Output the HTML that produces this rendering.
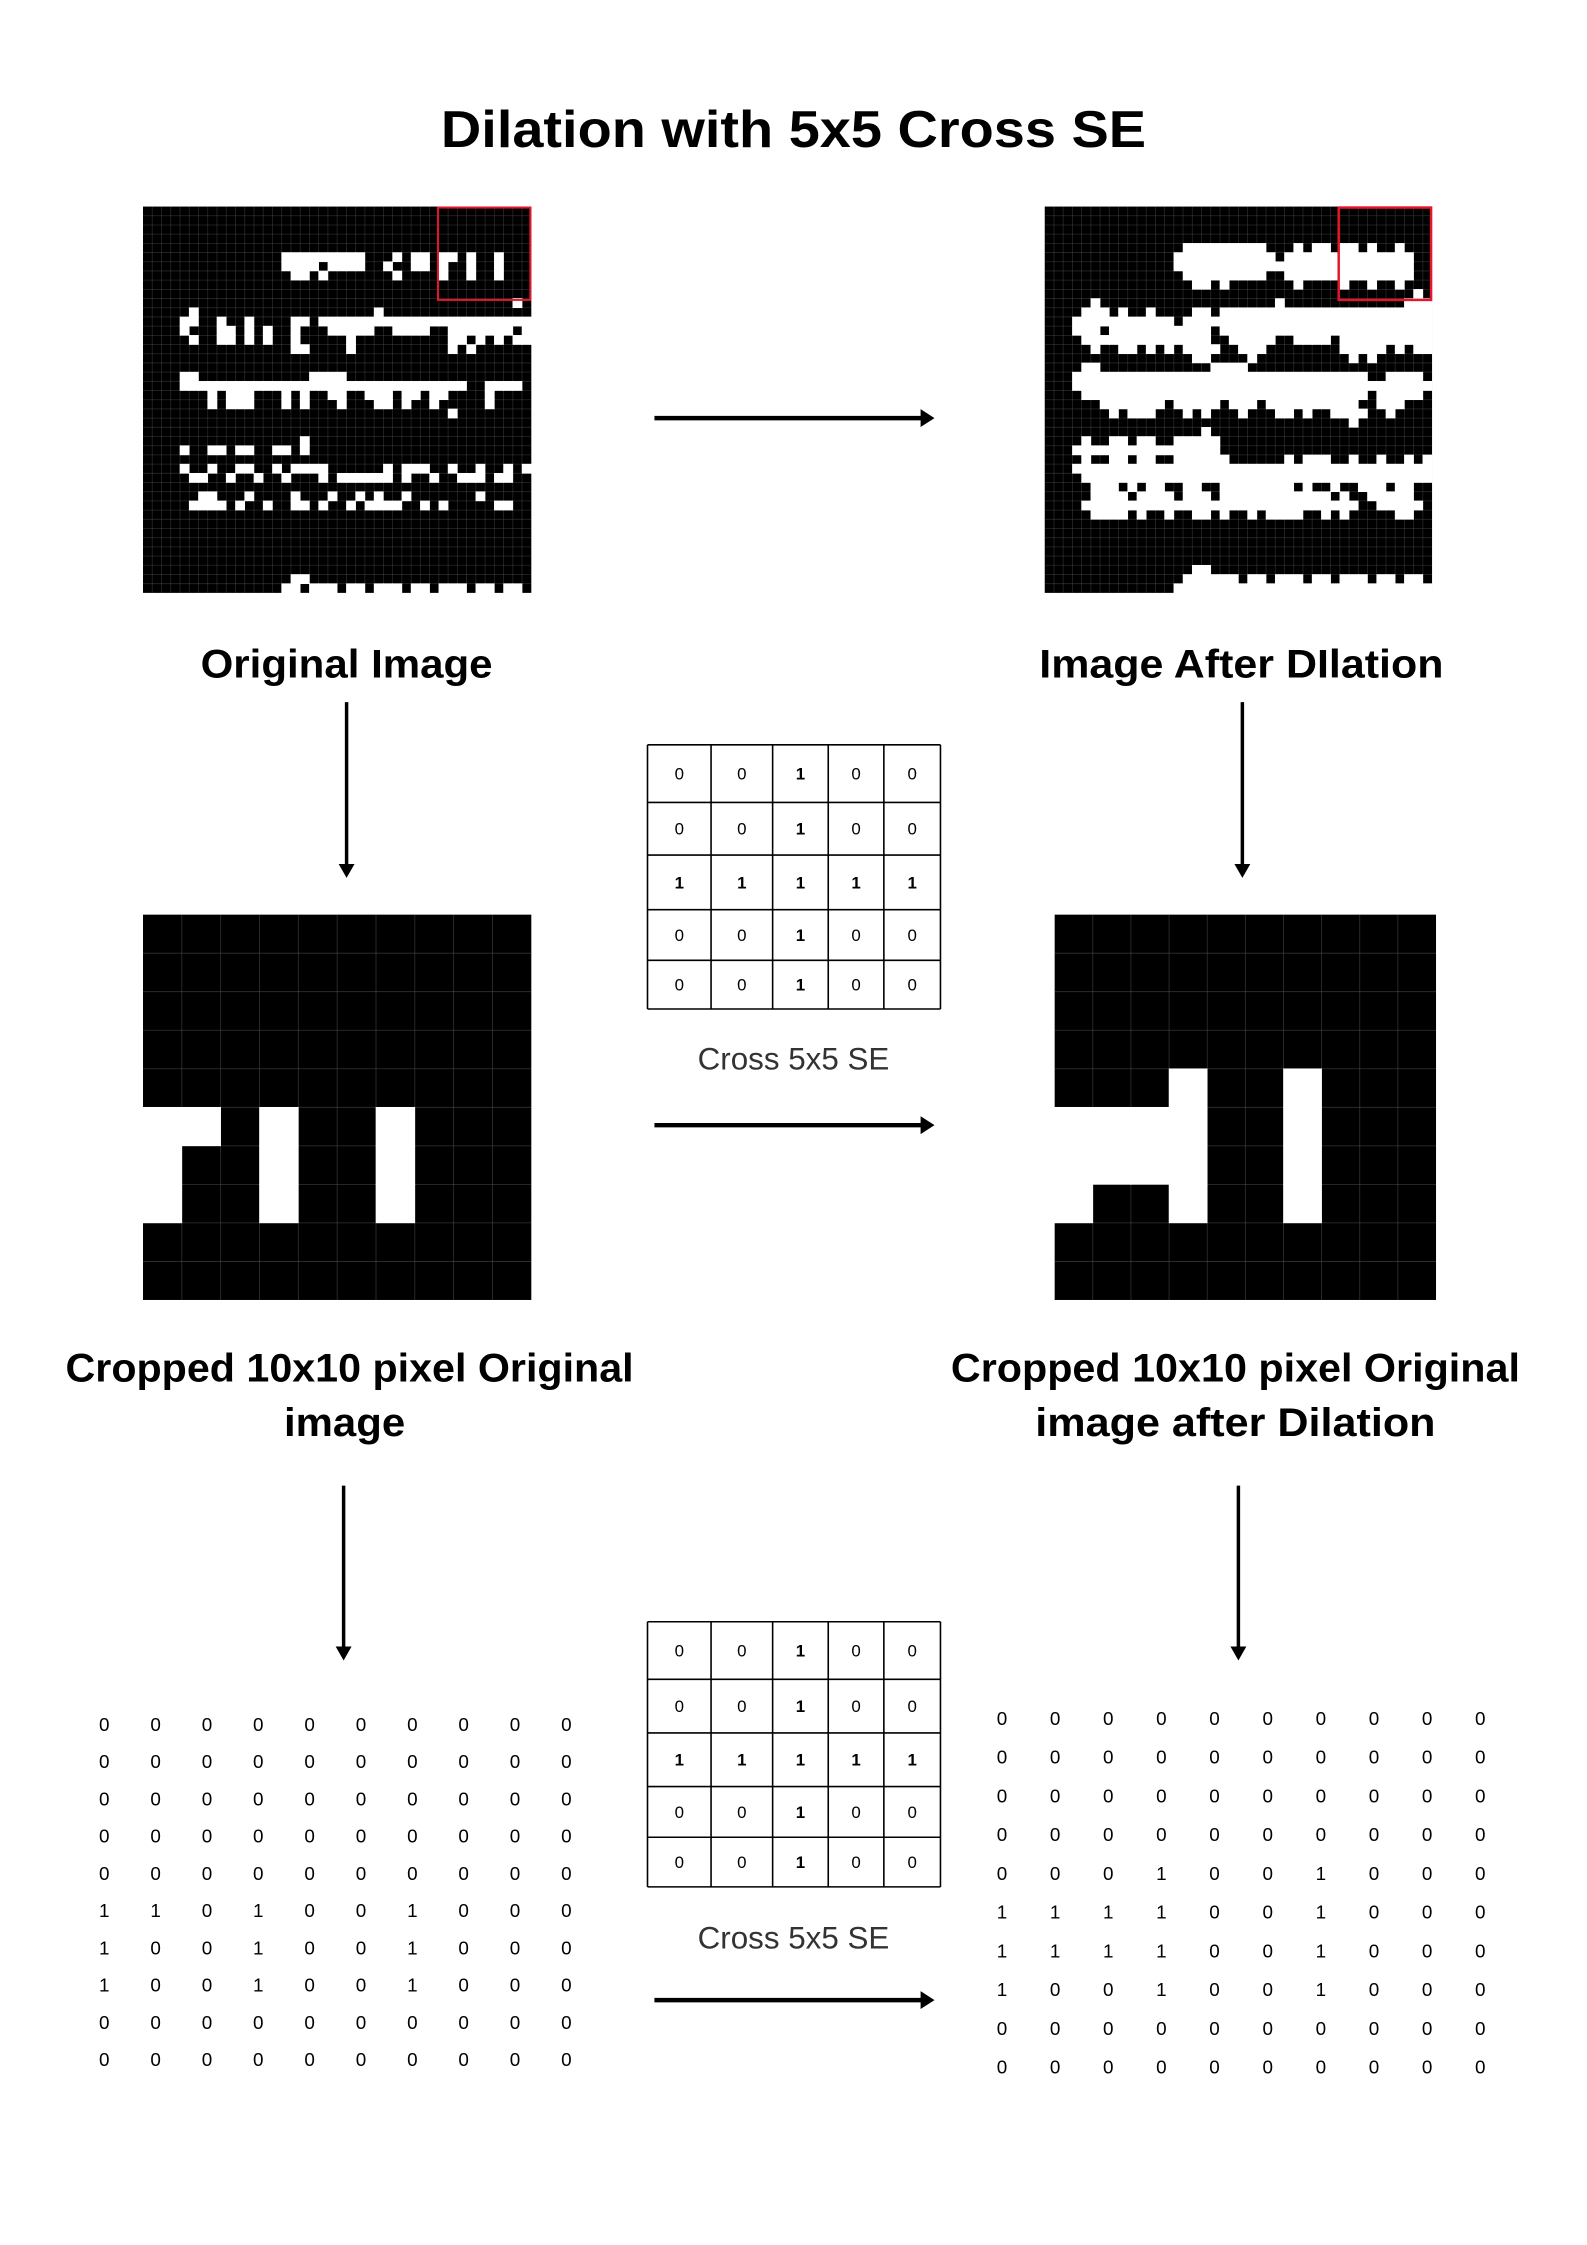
<!DOCTYPE html>
<html><head><meta charset="utf-8"><style>
html,body{margin:0;padding:0;background:#fff;}
svg{display:block;}
text{font-family:"Liberation Sans",sans-serif;}
</style></head><body>
<svg width="1587" height="2245" viewBox="0 0 1587 2245" xmlns="http://www.w3.org/2000/svg">
<rect width="1587" height="2245" fill="#fff"/>
<g id="page" transform="scale(0.9931)">
<text x="799" y="148" font-size="52" font-weight="bold" text-anchor="middle" textLength="710" lengthAdjust="spacingAndGlyphs">Dilation with 5x5 Cross SE</text>
<text x="349" y="682" font-size="40" font-weight="bold" text-anchor="middle" textLength="294" lengthAdjust="spacingAndGlyphs">Original Image</text>
<text x="1250" y="682" font-size="40" font-weight="bold" text-anchor="middle" textLength="407" lengthAdjust="spacingAndGlyphs">Image After DIlation</text>
<text x="352" y="1391" font-size="40" font-weight="bold" text-anchor="middle" textLength="572" lengthAdjust="spacingAndGlyphs">Cropped 10x10 pixel Original</text>
<text x="347" y="1446" font-size="40" font-weight="bold" text-anchor="middle" textLength="122" lengthAdjust="spacingAndGlyphs">image</text>
<text x="1244" y="1391" font-size="40" font-weight="bold" text-anchor="middle" textLength="573" lengthAdjust="spacingAndGlyphs">Cropped 10x10 pixel Original</text>
<text x="1244" y="1446" font-size="40" font-weight="bold" text-anchor="middle" textLength="403" lengthAdjust="spacingAndGlyphs">image after Dilation</text>
<text x="799" y="1077" font-size="32" fill="#333" text-anchor="middle" textLength="193" lengthAdjust="spacingAndGlyphs">Cross 5x5 SE</text>
<text x="799" y="1962" font-size="32" fill="#333" text-anchor="middle" textLength="193" lengthAdjust="spacingAndGlyphs">Cross 5x5 SE</text>
</g>
</svg>
<script>
const origRows = {
5:[15,16,17,18,19,20,21,22,23,27,29,30,32,33,35,38],
6:[15,16,17,18,20,21,22,23,26,29,30,32,35,38],
7:[16,17,19,27,32,35,38],
10:[40],
11:[5,25],
12:[4,5,8,11,16,17,19,20,21,22,23,24,25,26,27,28,29,30,31,32,33,34,35,36,37,38,39,40,41],
13:[4,8,9,11,13,16,20,21,22,23,24,27,28,29,30,33,34,35,36,37,38,39,41],
14:[5,8,9,11,13,16,22,33,34,36,38,40,41],
15:[16,17,22,33,35],
18:[4,5,18,19,20,21],
19:[4,5,6,7,8,9,10,11,12,13,14,15,16,17,18,19,20,21,22,23,24,25,26,27,28,29,30,31,32,33,34,37,38,39,40],
20:[7,9,10,11,15,17,20,21,24,25,26,28,29,31,32,37],
21:[7,9,10,11,15,17,21,25,26,28,31,37],
22:[33],
25:[17],
26:[4,7,8,10,11,14,15,17],
28:[4,7,10,11,14,16,17,18,19,26,28,29,30,33,36,39,41],
29:[5,6,9,12,15,19,21,22,23,24,25,26,28,31,34,35,36,38,39],
31:[6,7,11,16,20,23,25,28,36],
32:[5,6,7,8,10,13,16,17,19,22,24,25,26,27,30,32,38,39],
40:[16,17],
41:[15,16,18,19,20,22,23,25,26,27,29,30,32,33,34,36,37,39,40]
};
const cropOrig = [
"0000000000","0000000000","0000000000","0000000000","0000000000",
"1101001000","1001001000","1001001000","0000000000","0000000000"];
const cropDil = [
"0000000000","0000000000","0000000000","0000000000","0001001000",
"1111001000","1111001000","1001001000","0000000000","0000000000"];
const seMatrix = ["00100","00100","11111","00100","00100"];

const NS="http://www.w3.org/2000/svg";
const svg=document.getElementById('page');
function el(tag,attrs,parent){const e=document.createElementNS(NS,tag);for(const k in attrs)e.setAttribute(k,attrs[k]);(parent||svg).appendChild(e);return e;}

const N=42;
const orig=[];for(let r=0;r<N;r++){orig.push(new Array(N).fill(0));(origRows[r]||[]).forEach(c=>orig[r][c]=1);}
const dil=[];for(let r=0;r<N;r++){dil.push(new Array(N).fill(0));for(let c=0;c<N;c++){let v=0;for(let d=-1;d<=1;d++){if(orig[r+d]&&orig[r+d][c])v=1;if(orig[r][c+d])v=1;}dil[r][c]=v;}}

function drawGrid(mat,x,y,w,h,name,lineCol){
  const g=el('g',{});
  
  
  const n=mat.length, cw=w/n, ch=h/n;
  el('rect',{x:x,y:y,width:w,height:h,fill:'#000'},g);
  for(let i=1;i<n;i++){
    el('line',{x1:x+i*cw,y1:y,x2:x+i*cw,y2:y+h,stroke:lineCol,'stroke-width':0.8,opacity:0.6},g);
    el('line',{x1:x,y1:y+i*ch,x2:x+w,y2:y+i*ch,stroke:lineCol,'stroke-width':0.8,opacity:0.6},g);
  }
  for(let r=0;r<n;r++)for(let c=0;c<n;c++){
    if(+mat[r][c]){const p=el('rect',{x:x+c*cw-0.3,y:y+r*ch-0.3,width:cw+0.6,height:ch+0.6,fill:'#fff'},g);
      
      }
  }
  return g;
}
drawGrid(orig,144,208,391,389,'original-image','#444');
drawGrid(dil,1052,208,390,389,'dilated-image','#444');
let rb=el('rect',{x:441,y:209,width:93,height:93,fill:'none',stroke:'#e3162b','stroke-width':2});


rb=el('rect',{x:1348,y:209,width:93,height:93,fill:'none',stroke:'#e3162b','stroke-width':2.5});


drawGrid(cropOrig,144,921,391,388,'cropped-original-image','#555');
drawGrid(cropDil,1062,921,384,388,'cropped-dilated-image','#555');

function arrowH(x1,x2,y,name){const g=el('g',{});
  
  
  el('line',{x1:x1,y1:y,x2:x2-10,y2:y,stroke:'#000','stroke-width':4.5},g);
  el('polygon',{points:`${x2},${y} ${x2-14},${y-9} ${x2-14},${y+9}`,fill:'#000'},g);}
function arrowV(x,y1,y2,name){const g=el('g',{});
  
  
  el('line',{x1:x,y1:y1,x2:x,y2:y2-10,stroke:'#000','stroke-width':3.5},g);
  el('polygon',{points:`${x},${y2} ${x-8},${y2-14} ${x+8},${y2-14}`,fill:'#000'},g);}
arrowH(659,941,421,'arrow-dilate-top');
arrowH(659,941,1133,'arrow-dilate-middle');
arrowH(659,941,2014,'arrow-dilate-bottom');
arrowV(349,707,884,'arrow-down-left-1');
arrowV(1251,707,884,'arrow-down-right-1');
arrowV(346,1496,1672,'arrow-down-left-2');
arrowV(1247,1496,1672,'arrow-down-right-2');

const seCols=[652,716,778,834,890,947];
function drawSE(rowsY,name){const g=el('g',{});
  
  
  for(const x of seCols) el('line',{x1:x,y1:rowsY[0],x2:x,y2:rowsY[5],stroke:'#000','stroke-width':1.6},g);
  for(const y of rowsY) el('line',{x1:seCols[0],y1:y,x2:seCols[5],y2:y,stroke:'#000','stroke-width':1.6},g);
  for(let r=0;r<5;r++)for(let c=0;c<5;c++){
    const v=seMatrix[r][c];
    const t=el('text',{x:(seCols[c]+seCols[c+1])/2,y:(rowsY[r]+rowsY[r+1])/2+6,'font-size':17,'text-anchor':'middle','font-weight':v==='1'?'bold':'normal'},g);
    t.textContent=v;
    
    
  }}
drawSE([750,808,861,916,967,1016],'se-table-1');
drawSE([1633,1691,1745,1799,1850,1900],'se-table-2');

function drawMatrix(mat,x0,dx,y0,dy,name){const g=el('g',{});
  
  
  for(let r=0;r<10;r++)for(let c=0;c<10;c++){
    const t=el('text',{x:x0+c*dx,y:y0+r*dy+7,'font-size':19,'text-anchor':'middle','font-family':'Liberation Mono, monospace'},g);
    t.textContent=mat[r][c];
    
    
  }}
drawMatrix(cropOrig,105,51.7,1736,37.5,'original-matrix');
drawMatrix(cropDil,1009,53.5,1730,39,'dilated-matrix');
</script>
</body></html>
